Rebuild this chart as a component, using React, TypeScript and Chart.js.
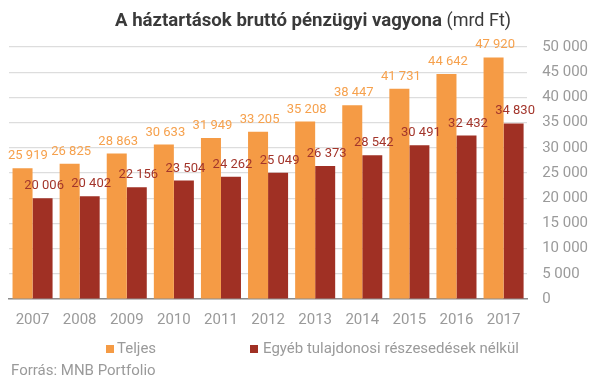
import React, { useEffect, useRef } from "react";
import { Chart, registerables } from "chart.js";

Chart.register(...registerables);

const years = ["2007", "2008", "2009", "2010", "2011", "2012", "2013", "2014", "2015", "2016", "2017"];
const teljes = [25919, 26825, 28863, 30633, 31949, 33205, 35208, 38447, 41731, 44642, 47920];
const egyeb = [20006, 20402, 22156, 23504, 24262, 25049, 26373, 28542, 30491, 32432, 34830];
const seriesNames = ["Teljes", "Egyéb tulajdonosi részesedések nélkül"];
const titleBold = "A háztartások bruttó pénzügyi vagyona";
const titleNormal = " (mrd Ft)";
const sourceText = "Forrás: MNB Portfolio";

const ORANGE = "#F59B45";
const RED = "#A03024";
const ORANGE_LABEL = "#F6A14D";
const RED_LABEL = "#A3352B";
const GRAY = "#9a9a9a";
const FONT = "Roboto";

const fmt = (v: number) => {
  const s = Math.round(v).toString();
  return s.replace(/\B(?=(\d{3})+(?!\d))/g, " ");
};

const overlayPlugin = {
  id: "overlay",
  afterDatasetsDraw(chart: any) {
    const ctx = chart.ctx as CanvasRenderingContext2D;
    ctx.save();
    ctx.font = `13px ${FONT}`;
    ctx.textBaseline = "alphabetic";
    ctx.textAlign = "left";
    const colors = [ORANGE_LABEL, RED_LABEL];
    chart.data.datasets.forEach((ds: any, di: number) => {
      const meta = chart.getDatasetMeta(di);
      ctx.fillStyle = colors[di];
      meta.data.forEach((el: any, i: number) => {
        const txt = fmt(ds.data[i]);
        const w = ctx.measureText(txt).width;
        let x = el.x + 1.5 - w / 2;
        if (x < 8) x = 8;
        ctx.fillText(txt, x, el.y - 9);
      });
    });
    ctx.restore();
  },
  afterDraw(chart: any) {
    const ctx = chart.ctx as CanvasRenderingContext2D;
    ctx.save();
    // Title
    ctx.textBaseline = "alphabetic";
    ctx.textAlign = "left";
    ctx.fillStyle = "#3a3a3a";
    ctx.font = `bold 18px ${FONT}`;
    const bw = ctx.measureText(titleBold).width;
    const targetW = 327;
    const sx = targetW / bw;
    ctx.save();
    ctx.translate(115, 26);
    ctx.scale(sx, 1);
    ctx.fillText(titleBold, 0, 0);
    ctx.restore();
    ctx.font = `18px ${FONT}`;
    ctx.fillText(titleNormal, 115 + targetW, 26);

    // Legend
    ctx.font = `15px ${FONT}`;
    ctx.fillStyle = ORANGE;
    ctx.fillRect(106, 345, 8, 8);
    ctx.fillStyle = GRAY;
    ctx.fillText(seriesNames[0], 117, 353);
    ctx.fillStyle = RED;
    ctx.fillRect(250, 345, 8, 8);
    ctx.fillStyle = GRAY;
    ctx.fillText(seriesNames[1], 263, 353);

    // Source
    ctx.fillText(sourceText, 11, 375);
    ctx.restore();
  },
};

export default function App() {
  const ref = useRef<HTMLCanvasElement | null>(null);
  useEffect(() => {
    document.body.style.margin = "0";
    const canvas = ref.current;
    if (!canvas) return;
    const chart = new Chart(canvas, {
      type: "bar",
      data: {
        labels: years,
        datasets: [
          {
            label: seriesNames[0],
            data: teljes,
            backgroundColor: ORANGE,
            categoryPercentage: 0.85,
            barPercentage: 1.0,
          },
          {
            label: seriesNames[1],
            data: egyeb,
            backgroundColor: RED,
            categoryPercentage: 0.85,
            barPercentage: 1.0,
          },
        ],
      },
      options: {
        responsive: false,
        animation: false,
        layout: { padding: { left: 9, top: 47, right: 2, bottom: 38 } },
        plugins: {
          legend: { display: false },
          title: { display: false },
          tooltip: { enabled: false },
        },
        scales: {
          x: {
            grid: { display: false, drawTicks: false },
            border: { display: true, color: "#8c8c8c", width: 1.5 },
            ticks: { color: GRAY, font: { family: FONT, size: 15 }, padding: 12 },
          },
          y: {
            position: "right",
            min: 0,
            max: 50000,
            grid: { color: "#dddddd", lineWidth: 1.2, drawTicks: false },
            border: { display: false },
            ticks: {
              stepSize: 5000,
              color: GRAY,
              font: { family: FONT, size: 15 },
              padding: 15,
              callback: (v: any) => fmt(Number(v)),
            },
          },
        },
      },
      plugins: [overlayPlugin],
    });
    return () => chart.destroy();
  }, []);
  return (
    <div style={{ width: 605, height: 379 }}>
      <canvas ref={ref} width={605} height={379} style={{ display: "block" }} />
    </div>
  );
}
